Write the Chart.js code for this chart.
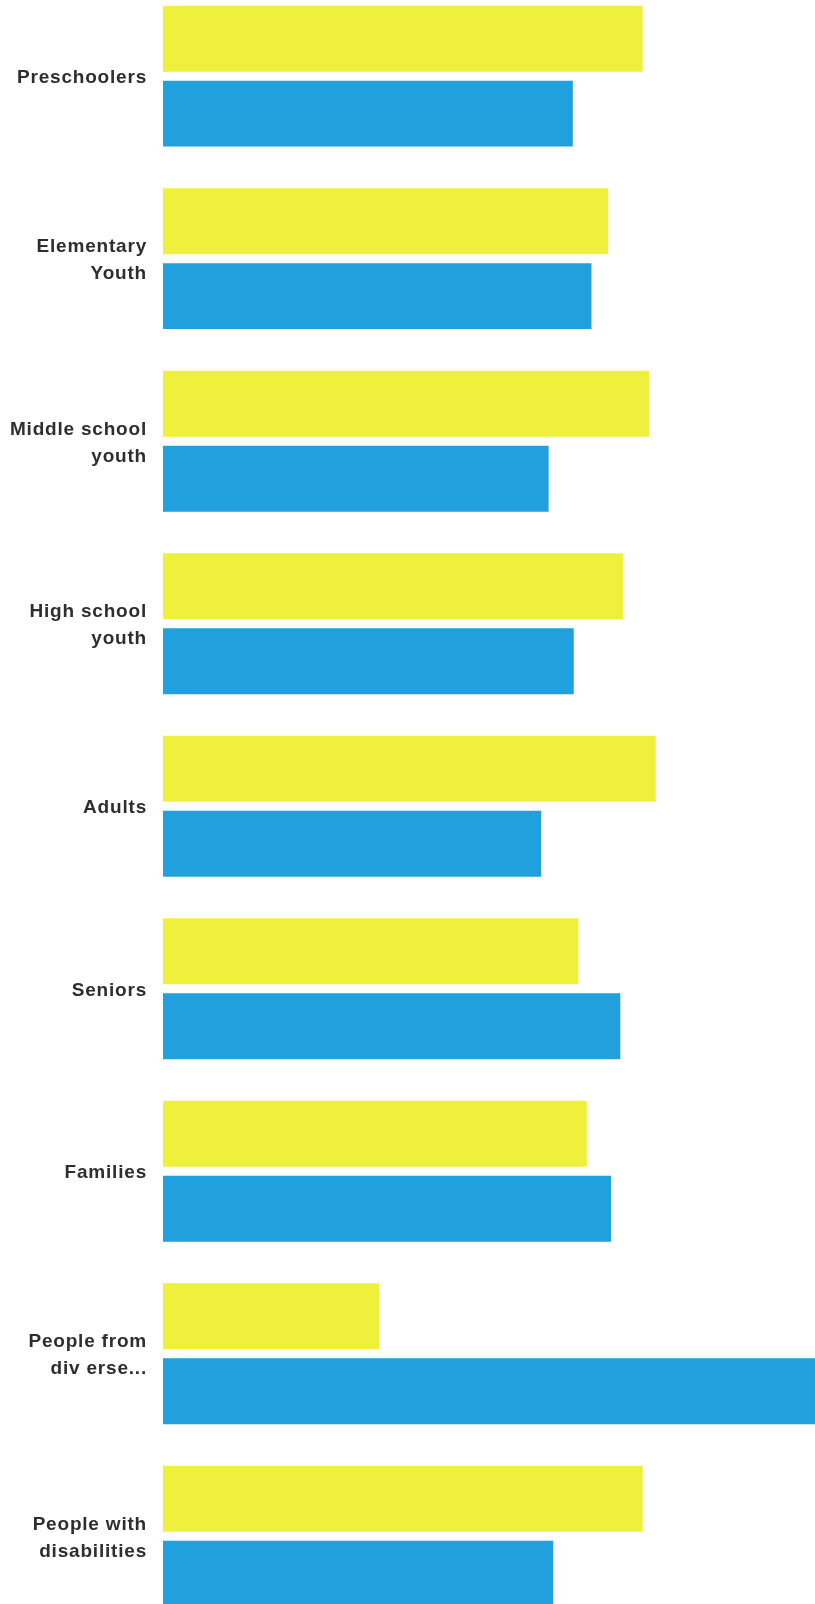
<!DOCTYPE html>
<html>
<head>
<meta charset="utf-8">
<script src="https://cdn.jsdelivr.net/npm/chart.js@4/dist/chart.umd.min.js"></script>
<style>
  html, body { margin: 0; padding: 0; background: #ffffff; overflow: hidden; width: 815px; height: 1604px; }
  #wrap { position: absolute; left: 0; top: -58px; width: 815px; height: 1715px; }
</style>
</head>
<body>
<div id="wrap"><canvas id="c" width="815" height="1715"></canvas></div>
<script>
const categories = [
  ["Preschoolers"],
  ["Elementary", "Youth"],
  ["Middle school", "youth"],
  ["High school", "youth"],
  ["Adults"],
  ["Seniors"],
  ["Families"],
  ["People from", "div erse..."],
  ["People with", "disabilities"]
];
const seriesNames = ["Series A", "Series B"];
const yellowValues = [51.5, 47.8, 52.2, 49.4, 52.9, 44.6, 45.5, 23.2, 51.5];
const blueValues   = [44.0, 46.0, 41.4, 44.1, 40.6, 49.1, 48.1, 72.0, 41.9];
const axisMin = 0;
const axisMax = 70;

const spacingPlugin = {
  id: 'spacing',
  beforeDraw(chart) { chart.ctx.letterSpacing = '0.8px'; }
};

new Chart(document.getElementById('c'), {
  type: 'bar',
  data: {
    labels: categories,
    datasets: [
      { label: seriesNames[0], data: yellowValues, backgroundColor: '#EEF03C', borderWidth: 0,
        barPercentage: 0.88, categoryPercentage: 0.8206 },
      { label: seriesNames[1], data: blueValues, backgroundColor: '#20A0DC', borderWidth: 0,
        barPercentage: 0.88, categoryPercentage: 0.8206 }
    ]
  },
  plugins: [spacingPlugin],
  options: {
    indexAxis: 'y',
    responsive: false,
    animation: false,
    devicePixelRatio: 1,
    layout: { padding: 0 },
    plugins: { legend: { display: false }, tooltip: { enabled: false } },
    scales: {
      x: { display: false, min: axisMin, max: axisMax },
      y: {
        grid: { display: false, drawTicks: false },
        border: { display: false },
        afterFit: (s) => { s.width = 163; },
        ticks: {
          padding: 16,
          labelOffset: 2,
          color: '#2e2e2e',
          font: { family: 'Liberation Sans, Arial, sans-serif', size: 19, weight: 'bold', lineHeight: 1.42 }
        }
      }
    }
  }
});
</script>
</body>
</html>
